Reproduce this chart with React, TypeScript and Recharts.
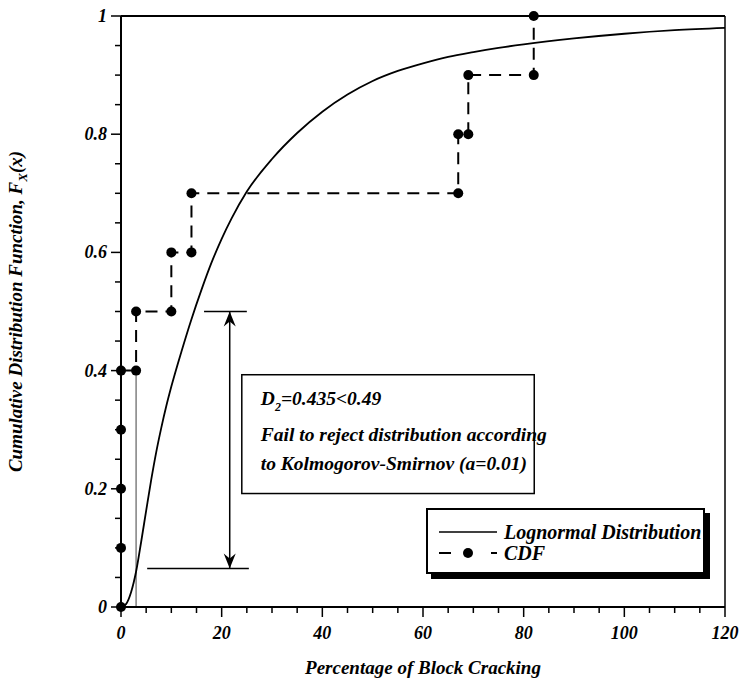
import {
  ComposedChart,
  Legend,
  Line,
  ReferenceArea,
  ReferenceLine,
  XAxis,
  YAxis,
} from "recharts"

// lognormal fit
const fitX = [0, 1, 2, 3, 4, 5, 6, 7, 8, 9, 10, 12, 14, 16, 18, 20, 22, 25, 30, 35, 40, 45, 50, 55, 60, 65, 70, 75, 80, 90, 100, 110, 120]
const fitY = [0, 0.005, 0.025, 0.06, 0.11, 0.163, 0.215, 0.262, 0.303, 0.34, 0.373, 0.432, 0.487, 0.537, 0.583, 0.623, 0.658, 0.703, 0.758, 0.802, 0.838, 0.867, 0.89, 0.907, 0.92, 0.931, 0.939, 0.946, 0.952, 0.962, 0.97, 0.976, 0.98]

// empirical CDF steps
const cdfX = [0, 0, 0, 0, 0, 3, 3, 10, 10, 14, 14, 67, 67, 69, 69, 82, 82]
const cdfY = [0, 0.1, 0.2, 0.3, 0.4, 0.4, 0.5, 0.5, 0.6, 0.6, 0.7, 0.7, 0.8, 0.8, 0.9, 0.9, 1]

const xTicks = [0, 5, 10, 15, 20, 25, 30, 35, 40, 45, 50, 55, 60, 65, 70, 75, 80, 85, 90, 95, 100, 105, 110, 115, 120]
const yTicks = [0, 0.05, 0.1, 0.15, 0.2, 0.25, 0.3, 0.35, 0.4, 0.45, 0.5, 0.55, 0.6, 0.65, 0.7, 0.75, 0.8, 0.85, 0.9, 0.95, 1]

// K-S annotation
const dTop = 0.5
const dBottom = 0.065
const dArrowX = 21.6
const dStat = "0.435"
const dCrit = "0.49"

const fitData = fitX.map((x, i) => ({ x, y: fitY[i] }))
const cdfData = cdfX.map((x, i) => ({ x, y: cdfY[i] }))

const serif = "'Liberation Serif', 'Times New Roman', serif"
const tickFont = { fontFamily: serif, fontStyle: "italic", fontWeight: 700, fontSize: 18, fill: "#000" }

function XTick({ x, y, payload }: any) {
  const v = payload.value
  const major = v % 20 === 0
  return (
    <g>
      <line x1={x} x2={x} y1={y} y2={y + (major ? 10 : 6)} stroke="#000" strokeWidth={1.5} />
      {major && (
        <text x={x} y={y + 32} textAnchor="middle" style={tickFont}>
          {v}
        </text>
      )}
    </g>
  )
}

function YTick({ x, y, payload }: any) {
  const v = payload.value
  const major = Math.abs(v * 5 - Math.round(v * 5)) < 1e-6
  return (
    <g>
      <line x1={x - (major ? 10 : 6)} x2={x} y1={y} y2={y} stroke="#000" strokeWidth={1.5} />
      {major && (
        <text x={x - 14} y={y + 6} textAnchor="end" style={tickFont}>
          {String(v)}
        </text>
      )}
    </g>
  )
}

function YTitle({ viewBox }: any) {
  const cx = viewBox.x - 39
  const cy = viewBox.y + viewBox.height / 2
  return (
    <text
      x={cx}
      y={cy}
      transform={`rotate(-90 ${cx} ${cy})`}
      textAnchor="middle"
      style={{ fontFamily: serif, fontStyle: "italic", fontWeight: 700, fontSize: 19, fill: "#000" }}
    >
      Cumulative Distribution Function, F
      <tspan dy={5} fontSize={13}>X</tspan>
      <tspan dy={-5}>(x)</tspan>
    </text>
  )
}

function XTitle({ viewBox }: any) {
  return (
    <text
      x={viewBox.x + viewBox.width / 2}
      y={viewBox.y + 67}
      textAnchor="middle"
      style={{ fontFamily: serif, fontStyle: "italic", fontWeight: 700, fontSize: 19, fill: "#000" }}
    >
      Percentage of Block Cracking
    </text>
  )
}

// double headed arrow for the D statistic
function DArrow({ x1, y1, x2, y2 }: any) {
  const top = Math.min(y1, y2)
  const bot = Math.max(y1, y2)
  return (
    <g>
      <line x1={x1} x2={x2} y1={top} y2={bot} stroke="#000" strokeWidth={1.5} />
      <path d={`M${x1},${top} L${x1 - 6},${top + 15} L${x1},${top + 10} L${x1 + 6},${top + 15} Z`} fill="#000" />
      <path d={`M${x1},${bot} L${x1 - 6},${bot - 15} L${x1},${bot - 10} L${x1 + 6},${bot - 15} Z`} fill="#000" />
    </g>
  )
}

function NoteBox({ x, y, width, height }: any) {
  const t = { fontFamily: serif, fontStyle: "italic", fontWeight: 700, fontSize: 19.5, fill: "#000" }
  return (
    <g>
      <rect x={x} y={y} width={width} height={height} fill="#fff" stroke="#000" strokeWidth={1.5} />
      <text x={x + 19} y={y + 30} style={t}>
        D<tspan dy={6} fontSize={12}>2</tspan>
        <tspan dy={-6}>={dStat}&lt;{dCrit}</tspan>
      </text>
      <text x={x + 19} y={y + 66} style={t}>
        Fail to reject distribution according
      </text>
      <text x={x + 19} y={y + 95} style={t}>
        to Kolmogorov-Smirnov (a=0.01)
      </text>
    </g>
  )
}

function LegendBox() {
  const t = { fontFamily: serif, fontStyle: "italic" as const, fontWeight: 700, fontSize: 20, color: "#000", lineHeight: "22px" }
  return (
    <div
      style={{
        width: 275,
        height: 62,
        border: "2px solid #000",
        boxShadow: "5px 5px 0 #000",
        background: "#fff",
        position: "relative",
      }}
    >
      <svg width={76} height={62} style={{ position: "absolute", left: 0, top: 0 }}>
        <line x1={11} x2={69} y1={22} y2={22} stroke="#000" strokeWidth={1.5} />
        <line x1={11} x2={23} y1={43} y2={43} stroke="#000" strokeWidth={2} />
        <circle cx={40} cy={43} r={5} fill="#000" />
        <line x1={63} x2={69} y1={43} y2={43} stroke="#000" strokeWidth={2} />
      </svg>
      <div style={{ ...t, position: "absolute", left: 76, top: 11, whiteSpace: "nowrap" }}>Lognormal Distribution</div>
      <div style={{ ...t, position: "absolute", left: 76, top: 32, whiteSpace: "nowrap" }}>CDF</div>
    </div>
  )
}

export default function App() {
  return (
    <div style={{ position: "absolute", left: 0, top: 0, background: "#fff" }}>
      <ComposedChart width={744} height={684} margin={{ top: 16, right: 19, bottom: 17, left: 61 }}>
        <XAxis
          type="number"
          dataKey="x"
          domain={[0, 120]}
          ticks={xTicks}
          interval={0}
          tickSize={0}
          tickMargin={0}
          tick={<XTick />}
          axisLine={{ stroke: "#000", strokeWidth: 2 }}
          height={60}
          label={{ content: XTitle }}
        />
        <YAxis
          type="number"
          domain={[0, 1]}
          ticks={yTicks}
          interval={0}
          tickSize={0}
          tickMargin={0}
          tick={<YTick />}
          axisLine={{ stroke: "#000", strokeWidth: 2 }}
          width={60}
          label={{ content: YTitle }}
        />
        <ReferenceLine y={1} stroke="#000" strokeWidth={2} ifOverflow="visible" />
        <ReferenceLine x={120} stroke="#000" strokeWidth={1.5} ifOverflow="visible" />
        <ReferenceLine
          segment={[{ x: 3, y: 0 }, { x: 3, y: 0.4 }]}
          stroke="#808080"
          strokeWidth={1.5}
        />
        <ReferenceLine segment={[{ x: 16.5, y: dTop }, { x: 25, y: dTop }]} stroke="#000" strokeWidth={1.5} />
        <ReferenceLine segment={[{ x: 5.2, y: dBottom }, { x: 25.4, y: dBottom }]} stroke="#000" strokeWidth={1.5} />
        <ReferenceLine segment={[{ x: dArrowX, y: dTop }, { x: dArrowX, y: dBottom }]} shape={DArrow} />
        <ReferenceArea x1={24} x2={82.1} y1={0.192} y2={0.393} shape={NoteBox} ifOverflow="visible" />
        <Line
          data={fitData}
          dataKey="y"
          name="Lognormal Distribution"
          type="monotone"
          stroke="#000"
          strokeWidth={1.8}
          dot={false}
          isAnimationActive={false}
        />
        <Line
          data={cdfData}
          dataKey="y"
          name="CDF"
          type="linear"
          stroke="#000"
          strokeWidth={2}
          strokeDasharray="12 8"
          dot={{ r: 5, fill: "#000", stroke: "#000", strokeWidth: 0 }}
          isAnimationActive={false}
        />
        <Legend
          layout="horizontal"
          verticalAlign="middle"
          content={<LegendBox />}
          wrapperStyle={{ left: 426, top: 508, width: 279, height: 66 }}
        />
      </ComposedChart>
    </div>
  )
}
